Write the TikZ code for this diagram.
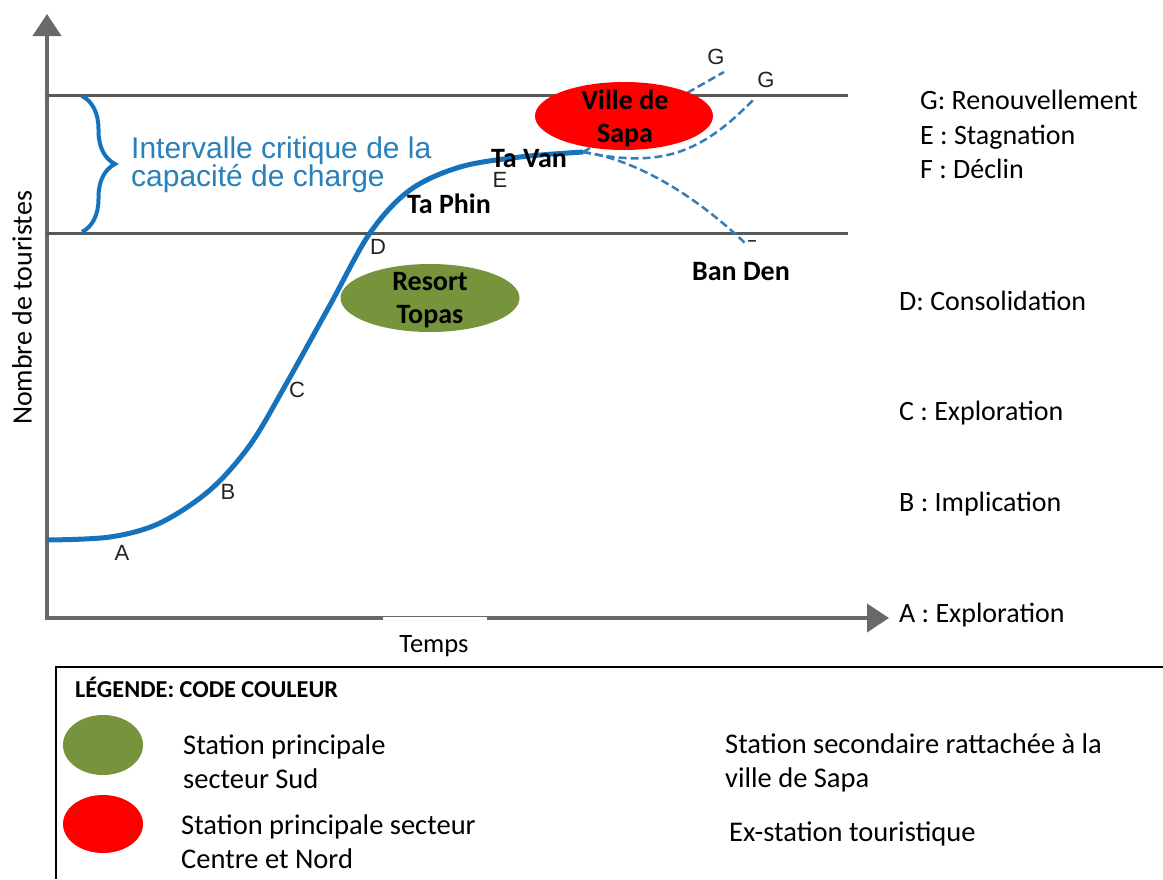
\documentclass[tikz,border=0pt]{standalone}
\usepackage{fontspec}
\setmainfont{Carlito}
\newfontfamily\arialf{Liberation Sans}
\usetikzlibrary{arrows.meta,decorations.pathreplacing,shapes.geometric}
\definecolor{axisgray}{RGB}{105,105,105}
\definecolor{linegray}{RGB}{88,88,88}
\definecolor{curveblue}{RGB}{22,114,186}
\definecolor{dashblue}{RGB}{55,125,180}
\definecolor{textblue}{RGB}{40,128,188}
\definecolor{oliveg}{RGB}{119,147,60}
\definecolor{lblgray}{RGB}{35,35,35}
\tikzset{
  axisline/.style={axisgray, line width=4pt, -{Triangle[length=22pt,width=28pt]}},
  limitline/.style={linegray, line width=3pt},
  branch/.style={dashblue, line width=2.5pt, dash pattern=on 8pt off 4pt},
  lbl/.style={font=\arialf\fontsize{22}{24}\selectfont, text=lblgray, inner sep=0pt},
  stage/.style={font=\fontsize{28}{31}\selectfont, anchor=base west, inner sep=0pt},
  place/.style={font=\bfseries\fontsize{28}{33}\selectfont, inner sep=0pt, align=center},
  blob/.style={ellipse, inner sep=0pt},
  legtext/.style={font=\fontsize{28.5}{32}\selectfont, anchor=base west, inner sep=0pt},
  bluetext/.style={font=\arialf\fontsize{30}{30}\selectfont, text=textblue, anchor=base west, inner sep=0pt},
}
\begin{document}
\begin{tikzpicture}[x=1pt,y=-1pt]
\useasboundingbox (0,0) rectangle (1163,879);
\fill[white] (0,0) rectangle (1163,879);
% axes
\coordinate (ytip) at (47,14);
\coordinate (xtip) at (889,618);
\draw[axisline] (47,620) -- (ytip);
\draw[axisline] (45,618) -- (xtip);
% limit lines
\coordinate (up0) at (47,95);
\coordinate (up1) at (848,95);
\coordinate (lo0) at (47,233);
\coordinate (lo1) at (848,233);
\draw[limitline] (up0) -- (up1);
\draw[limitline] (lo0) -- (lo1);
% brace
\coordinate (brtop) at (82,96);
\coordinate (brbot) at (82,232);
\draw[curveblue, line width=4pt, decorate, decoration={brace, amplitude=33pt}] (brtop) -- (brbot);
\node[bluetext] (int1) at (131,158) {Intervalle critique de la};
\node[bluetext] (int2) at (131,186) {capacité de charge};
% curve
\coordinate (split) at (583,152);
\draw[curveblue, line width=5pt] plot[smooth, tension=0.55] coordinates {(47,540) (110,537) (160,523) (210,490) (250,445) (285,386) (330,305) (370,233) (410,190) (460,167) (520,157) (split)};
% branches
\coordinate (g1) at (724,72);
\coordinate (g2) at (755,98);
\coordinate (f1) at (745,243);
\draw[branch] (split) -- (g1);
\draw[branch] (split) .. controls (660,168) and (700,155) .. (g2);
\draw[branch] (split) .. controls (640,160) and (700,200) .. (f1);
% ellipses
\node[blob, fill=red, minimum width=178pt, minimum height=68pt] (sapa) at (624,116) {};
\node[place] (sapatxt) at (625,118) {Ville de\\Sapa};
\node[blob, fill=oliveg, minimum width=179pt, minimum height=68pt] (topas) at (430,298) {};
\node[place] (topastxt) at (430,300) {Resort\\Topas};
% stage letters
\node[lbl] (A) at (122,553) {A};
\node[lbl] (B) at (228,492) {B};
\node[lbl] (C) at (297,390) {C};
\node[lbl] (D) at (378,247) {D};
\node[lbl] (E) at (500,180) {E};
\node[lbl] (G1) at (716,57) {G};
\node[lbl] (G2) at (766,80) {G};
% places
\node[place] (taphin) at (449,204) {Ta Phin};
\node[place] (tavan) at (529,159) {Ta Van};
\node[place] (banden) at (741,272) {Ban Den};
\node[font=\fontsize{22}{24}\selectfont, inner sep=0pt] (dash) at (752,244) {–};
% axis labels
\node[fill=white, minimum width=104pt, minimum height=44pt, inner sep=0pt] (tempsbox) at (435,639) {};
\node[font=\fontsize{26.5}{30}\selectfont, inner sep=0pt] (temps) at (434,646) {Temps};
\node[font=\fontsize{28}{30}\selectfont, rotate=90, inner sep=0pt] (ylabel) at (22,308) {Nombre de touristes};
% stage list
\node[stage] (sG) at (920,109) {G: Renouvellement};
\node[stage] (sE) at (920,144) {E : Stagnation};
\node[stage] (sF) at (920,178) {F : Déclin};
\node[stage] (sD) at (899,310) {D: Consolidation};
\node[stage] (sC) at (899,420) {C : Exploration};
\node[stage] (sB) at (899,511) {B : Implication};
\node[stage] (sA) at (899,622) {A : Exploration};
% legend
\coordinate (lg0) at (56,879);
\coordinate (lg1) at (56,667);
\coordinate (lg2) at (1163,667);
\draw[black, line width=2pt] (lg0) -- (lg1) -- (lg2);
\node[font=\bfseries\fontsize{24.3}{26}\selectfont, anchor=base west, inner sep=0pt] (legtitle) at (75,697) {LÉGENDE: CODE COULEUR};
\node[blob, fill=oliveg, minimum width=80pt, minimum height=60pt] (legg) at (103,745) {};
\node[blob, fill=red, minimum width=80pt, minimum height=58pt] (legr) at (103,824) {};
\node[legtext] (l1a) at (183,754) {Station principale};
\node[legtext] (l1b) at (183,788) {secteur Sud};
\node[legtext] (l2a) at (181,834) {Station principale secteur};
\node[legtext] (l2b) at (181,868) {Centre et Nord};
\node[legtext] (l3a) at (725,753) {Station secondaire rattachée à la};
\node[legtext] (l3b) at (725,787) {ville de Sapa};
\node[legtext] (l4) at (729,841) {Ex-station touristique};
\end{tikzpicture}
\end{document}
